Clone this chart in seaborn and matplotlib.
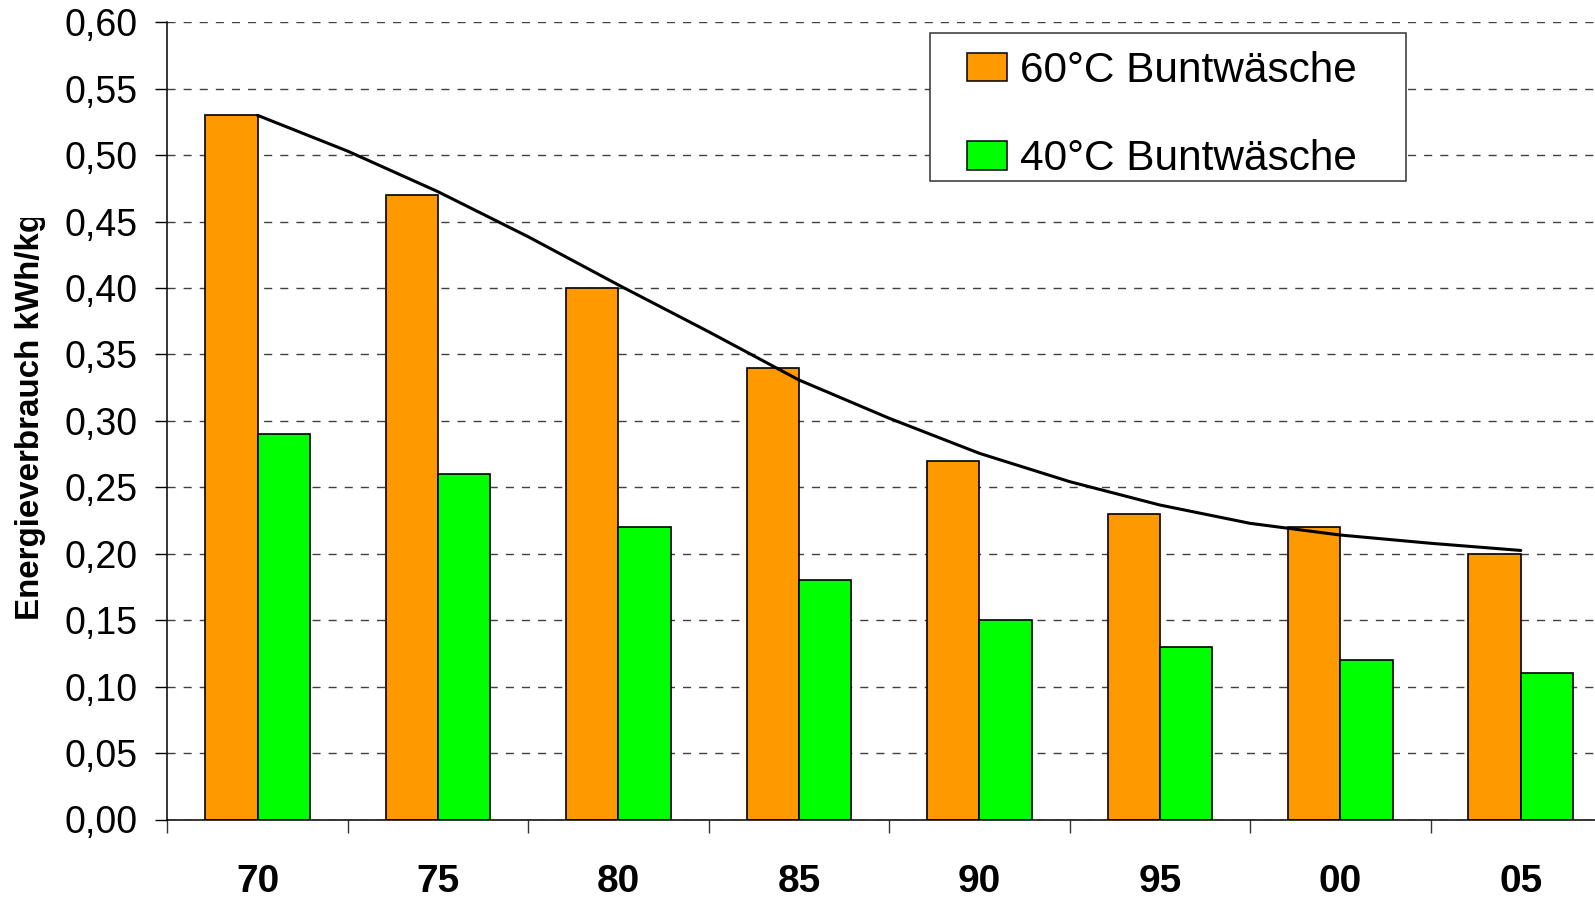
import numpy as np
import pandas as pd
import seaborn as sns
import matplotlib.pyplot as plt
from matplotlib.patches import Rectangle
from matplotlib.ticker import FuncFormatter, FixedLocator
from matplotlib.transforms import Bbox, TransformedBbox

# data
years = ['70', '75', '80', '85', '90', '95', '00', '05']
wash_60 = [0.53, 0.47, 0.40, 0.34, 0.27, 0.23, 0.22, 0.20]
wash_40 = [0.29, 0.26, 0.22, 0.18, 0.15, 0.13, 0.12, 0.11]
# trend curve over the 60 degree bars, read at each category and half-way between
trend_60 = [0.530, 0.503, 0.4725, 0.4386, 0.4023, 0.3671, 0.3308, 0.302,
            0.2756, 0.2543, 0.2367, 0.2229, 0.2141, 0.2079, 0.2025]
series = ['60°C Buntwäsche', '40°C Buntwäsche']
colors = ['#FF9900', '#00FF00']

df = pd.DataFrame({
    'Jahr': years * 2,
    'Wert': wash_60 + wash_40,
    'Serie': [series[0]] * len(years) + [series[1]] * len(years),
})

sns.set_style('white')
plt.rcParams['font.family'] = ['Liberation Sans', 'DejaVu Sans']
plt.rcParams['text.color'] = 'black'
plt.rcParams['xtick.color'] = 'black'
plt.rcParams['ytick.color'] = 'black'

W, H = 1595, 898
fig = plt.figure(figsize=(W / 100, H / 100), dpi=100)
ax = fig.add_axes([167.3 / W, 1 - 819.5 / H, 1443.7 / W, 797.2 / H])

sns.barplot(data=df, x='Jahr', y='Wert', hue='Serie', palette=colors,
            width=0.58, saturation=1, edgecolor='black', linewidth=1.2,
            legend=False, ax=ax)

trend_x = np.arange(len(trend_60)) * 0.5
ax.plot(trend_x, trend_60, color='black', lw=2.2, zorder=5,
        solid_joinstyle='round', solid_capstyle='round')

ax.set_xlim(-0.5, len(years) - 0.5)
ax.set_ylim(0, 0.6)
ax.set_yticks(np.arange(0, 0.601, 0.05))
ax.yaxis.set_major_formatter(FuncFormatter(lambda v, _: f'{v:.2f}'.replace('.', ',')))
ax.tick_params(axis='y', which='major', length=8.6, width=1, color='black',
               direction='out', pad=13, labelsize=27, left=True)

ax.set_xticks(range(len(years)))
ax.set_xticklabels(years, fontsize=28, fontweight='bold')
ax.tick_params(axis='x', which='major', length=0, pad=32)
ax.xaxis.set_minor_locator(FixedLocator(np.arange(-0.5, len(years), 1.0)))
ax.tick_params(axis='x', which='minor', length=9, width=1, color='#333333',
               direction='out', bottom=True)

ax.set_xlabel('')
ax.set_ylabel('')
ax.set_axisbelow(True)
ax.yaxis.grid(True, color='#404040', lw=1, linestyle=(0, (5.8, 5.8)))
ax.xaxis.grid(False)
for side in ['top', 'right']:
    ax.spines[side].set_visible(False)
for side in ['left', 'bottom']:
    ax.spines[side].set_color('black')
    ax.spines[side].set_linewidth(1.1)

# y label, clipped at the top like in the original
ylab = fig.text(31 / W, 1 - 620 / H, 'Energieverbrauch kWh/kg', rotation=90,
                ha='center', va='bottom', fontsize=23.9, fontweight='bold')
ylab.set_clip_box(TransformedBbox(Bbox([[0, 0], [1, 1 - 218 / H]]), fig.transFigure))
ylab.set_clip_on(True)

# legend: white box over the grid, entries placed inside it
fig.patches.append(Rectangle((930 / W, 1 - 181 / H), 476 / W, 148 / H,
                             transform=fig.transFigure, facecolor='white',
                             edgecolor='#333333', lw=1.1, zorder=3))
handles = [Rectangle((0, 0), 1, 1, facecolor=c, edgecolor='black', lw=1.1) for c in colors]
fig.legend(handles, series, loc='upper left',
           bbox_to_anchor=(966.7 / W, 1 - 51 / H), frameon=False,
           fontsize=30.5, borderpad=0, borderaxespad=0, handlelength=0.95,
           handleheight=0.66, handletextpad=0.32, labelspacing=1.14)

fig.savefig('out.png', dpi=100)
